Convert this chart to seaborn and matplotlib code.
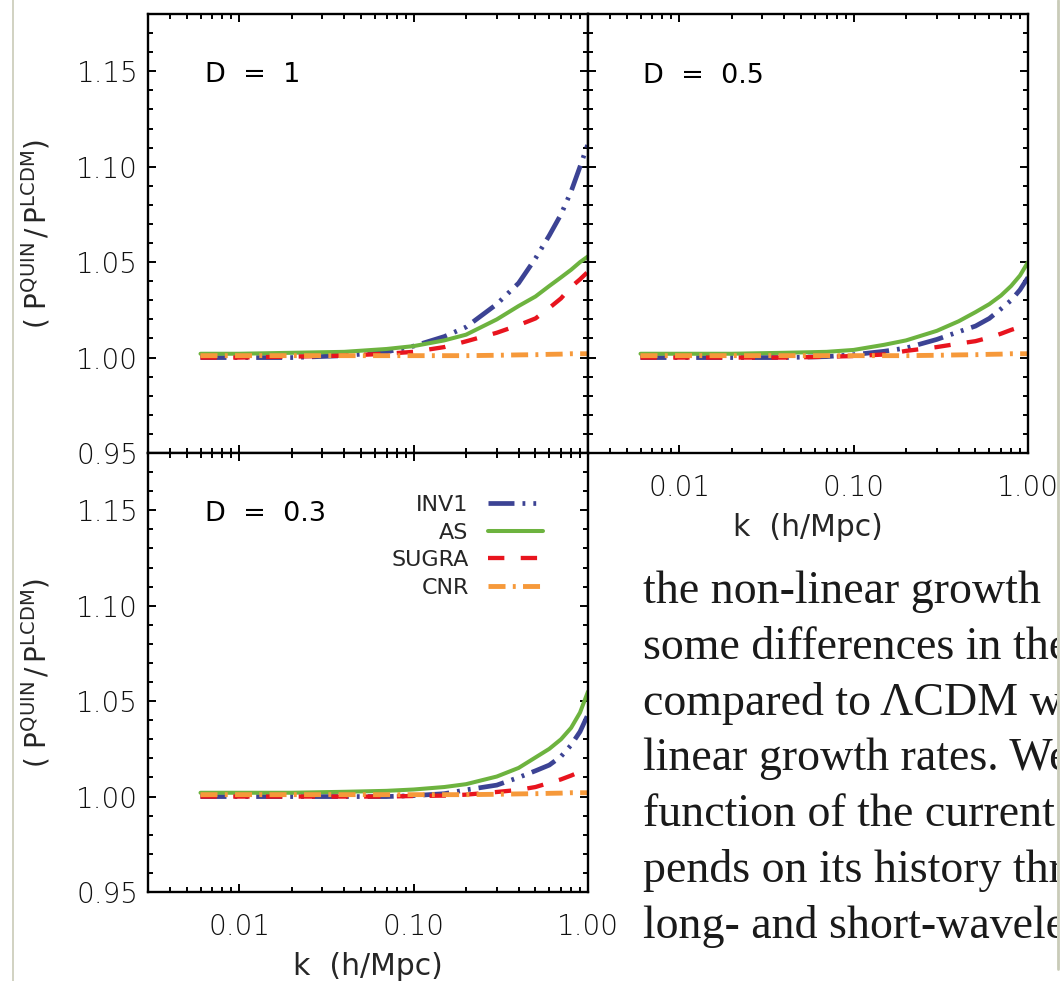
import numpy as np
import pandas as pd
import matplotlib
matplotlib.use("Agg")
import matplotlib.pyplot as plt
import seaborn as sns
from matplotlib.ticker import FixedLocator, FixedFormatter, NullFormatter, MultipleLocator, FormatStrFormatter
from matplotlib.lines import Line2D

# ---------------- data ----------------
k_values = [0.006, 0.01, 0.02, 0.04, 0.07, 0.1, 0.15, 0.2, 0.3, 0.4, 0.5, 0.6, 0.7, 0.8, 0.9, 1.0]
models = ["INV1", "AS", "SUGRA", "CNR"]
panel_titles = ["D  =  1", "D  =  0.5", "D  =  0.3"]

# D = 1
d1_inv1 = [1.000, 1.000, 1.000, 1.001, 1.003, 1.006, 1.011, 1.016, 1.028, 1.039, 1.052, 1.064, 1.075, 1.087, 1.100, 1.112]
d1_as = [1.002, 1.002, 1.0025, 1.003, 1.0045, 1.006, 1.009, 1.012, 1.020, 1.027, 1.032, 1.0375, 1.042, 1.046, 1.050, 1.053]
d1_sugra = [1.000, 1.000, 1.0005, 1.001, 1.002, 1.003, 1.0055, 1.0085, 1.013, 1.017, 1.0205, 1.026, 1.031, 1.037, 1.041, 1.045]
d1_cnr = [1.001, 1.001, 1.001, 1.001, 1.001, 1.001, 1.001, 1.001, 1.0012, 1.0014, 1.0015, 1.0017, 1.0018, 1.002, 1.002, 1.002]
# D = 0.5
d05_inv1 = [1.000, 1.000, 1.000, 1.000, 1.0005, 1.0015, 1.0033, 1.005, 1.0095, 1.0135, 1.0165, 1.0205, 1.0255, 1.030, 1.0355, 1.042]
d05_as = [1.002, 1.002, 1.002, 1.0025, 1.003, 1.004, 1.0067, 1.009, 1.014, 1.019, 1.0238, 1.028, 1.0325, 1.0375, 1.043, 1.050]
d05_sugra = [1.000, 1.000, 1.000, 1.000, 1.0004, 1.0008, 1.0016, 1.0035, 1.0055, 1.0073, 1.0086, 1.0105, 1.0125, 1.0145, 1.016, 1.018]
d05_cnr = [1.001, 1.001, 1.001, 1.001, 1.001, 1.001, 1.001, 1.001, 1.0012, 1.0014, 1.0015, 1.0017, 1.0018, 1.002, 1.002, 1.002]
# D = 0.3
d03_inv1 = [1.000, 1.000, 1.000, 1.000, 1.000, 1.0005, 1.0015, 1.0035, 1.006, 1.010, 1.0135, 1.0165, 1.021, 1.027, 1.034, 1.043]
d03_as = [1.002, 1.002, 1.002, 1.0025, 1.003, 1.0037, 1.005, 1.0065, 1.0105, 1.015, 1.0205, 1.025, 1.030, 1.036, 1.044, 1.055]
d03_sugra = [1.000, 1.000, 1.000, 1.000, 1.000, 1.0003, 1.0005, 1.001, 1.0024, 1.0035, 1.005, 1.0072, 1.009, 1.011, 1.013, 1.0145]
d03_cnr = [1.001, 1.001, 1.001, 1.001, 1.001, 1.001, 1.001, 1.001, 1.0012, 1.0014, 1.0015, 1.0017, 1.0018, 1.002, 1.002, 1.002]

x_tick_values = [0.01, 0.1, 1.0]
x_tick_labels = ["0.01", "0.10", "1.00"]
page_lines = [
    "the non-linear growth",
    "some differences in the",
    "compared to \u039bCDM w",
    "linear growth rates. We",
    "function of the current",
    "pends on its history thr",
    "long- and short-wavele",
]

panels = [
    [d1_inv1, d1_as, d1_sugra, d1_cnr],
    [d05_inv1, d05_as, d05_sugra, d05_cnr],
    [d03_inv1, d03_as, d03_sugra, d03_cnr],
]

# ---------------- styling ----------------
sns.set_theme(style="ticks")
plt.rcParams["font.family"] = ["DejaVu Sans"]
plt.rcParams["mathtext.fontset"] = "dejavusans"

colors = {"INV1": "#3c4394", "AS": "#6db33f", "SUGRA": "#e8141e", "CNR": "#f6993a"}
styles = {
    "INV1": (0, (5.5, 1.7, 0.6, 1.7, 0.6, 1.7)),
    "AS": "-",
    "SUGRA": (0, (3.8, 3.8)),
    "CNR": (0, (3.5, 1.5, 0.6, 1.5)),
}
widths = {"INV1": 3.4, "AS": 2.9, "SUGRA": 3.1, "CNR": 3.5}

W, H = 1061, 981
fig = plt.figure(figsize=(W / 100, H / 100), dpi=100)

def frac_box(x0, y0, x1, y1):
    return [x0 / W, 1 - y1 / H, (x1 - x0) / W, (y1 - y0) / H]

boxes = [frac_box(148, 14, 588, 453), frac_box(588, 14, 1028, 453), frac_box(148, 453, 588, 892)]
title_pos = [(0.13, 0.861), (0.125, 0.858), (0.13, 0.861)]
axes = []
for i, box in enumerate(boxes):
    ax = fig.add_axes(box)
    axes.append(ax)
    df = pd.DataFrame({"k": np.tile(k_values, 4),
                       "ratio": np.concatenate(panels[i]),
                       "model": np.repeat(models, len(k_values))})
    for m in models:
        sub = df[df["model"] == m]
        sns.lineplot(data=sub, x="k", y="ratio", ax=ax, color=colors[m],
                     lw=widths[m], linestyle=styles[m], label=m, legend=False,
                     estimator=None, sort=True)
    ax.set_xscale("log")
    ax.set_xlim(0.003, 1.0)
    ax.set_ylim(0.95, 1.18)
    ax.xaxis.set_major_locator(FixedLocator(x_tick_values))
    ax.xaxis.set_major_formatter(FixedFormatter(x_tick_labels))
    minors = [m * 10.0 ** e for e in (-3, -2, -1) for m in range(2, 10)]
    ax.xaxis.set_minor_locator(FixedLocator(minors))
    ax.xaxis.set_minor_formatter(NullFormatter())
    ax.yaxis.set_major_locator(MultipleLocator(0.05))
    ax.yaxis.set_minor_locator(MultipleLocator(0.01))
    ax.yaxis.set_major_formatter(FormatStrFormatter("%.2f"))
    ax.tick_params(which="both", direction="in", top=True, right=True, width=1.4,
                   color="black", labelsize=20, labelcolor="#111111")
    ax.tick_params(which="major", length=6)
    ax.tick_params(which="minor", length=3.5)
    ax.tick_params(axis="y", pad=7)
    ax.tick_params(axis="x", pad=15)
    for s in ax.spines.values():
        s.set_linewidth(1.7)
        s.set_color("black")
    ax.set_xlabel("")
    ax.set_ylabel("")
    tx, ty = title_pos[i]
    ax.text(tx, ty, panel_titles[i], transform=ax.transAxes, fontsize=19.5,
            ha="left", va="center", color="black")
    ax.set_facecolor("white")
    for lab in ax.get_xticklabels() + ax.get_yticklabels():
        lab.set_fontweight("light")

ylab = r"$(\ \mathrm{P}^{\mathrm{QUIN}}\,/\,\mathrm{P}^{\mathrm{LCDM}})$"
for ax in (axes[0], axes[2]):
    ax.set_ylabel(ylab, fontsize=20)
    ax.yaxis.set_label_coords(-0.218, 0.5)
for ax in (axes[1], axes[2]):
    ax.set_xlabel("k  (h/Mpc)", fontsize=21.5)
    ax.xaxis.set_label_coords(0.5, -0.136)
axes[0].tick_params(labelbottom=False)
axes[1].tick_params(labelleft=False)

# legend in the D = 0.3 panel
handles = [l for l in axes[2].get_lines()]
leg = axes[2].legend(handles=handles, labels=models, loc="upper right",
                     bbox_to_anchor=(0.898, 0.904), frameon=False, markerfirst=False,
                     fontsize=16, handlelength=2.5, handletextpad=0.85,
                     labelspacing=0.34, borderpad=0, borderaxespad=0)

# surrounding page text (screenshot context)
tax = fig.add_axes(frac_box(600, 540, 1057, 981))
tax.set_axis_off()
tax.set_xlim(600, 1057)
tax.set_ylim(981, 540)
for j, line in enumerate(page_lines):
    tax.text(643, 603 + 55.8 * j, line, fontsize=33, family="Liberation Serif",
             color="#1a1a1a", ha="left", va="baseline", clip_on=True)

# page edges
fig.add_artist(Line2D([13 / W, 13 / W], [0, 1], color="#c9cbb8", lw=1.2))
fig.add_artist(Line2D([1058 / W, 1058 / W], [12 / H, 1], color="#c9cbb8", lw=2))

fig.savefig("out.png", dpi=100, facecolor="white")
